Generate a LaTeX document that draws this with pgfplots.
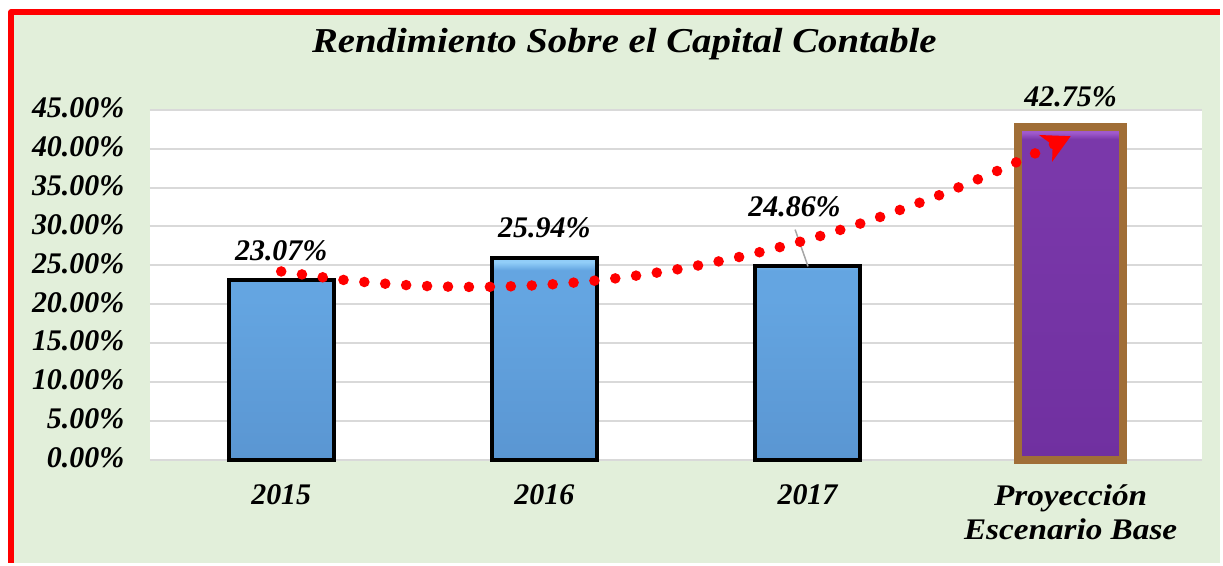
\documentclass[border=0pt]{standalone}
\usepackage{fontspec}
\setmainfont{Liberation Serif}
\newfontfamily\widefont{Liberation Serif}[FakeStretch=1.11]
\usepackage{pgfplots}
\pgfplotsset{compat=1.18}
\usepackage{pgfplotstable}
\usetikzlibrary{arrows.meta}

\definecolor{panelgreen}{RGB}{226,239,218}
\definecolor{framered}{RGB}{255,0,0}
\definecolor{gridgray}{RGB}{217,217,217}
\definecolor{barblue}{RGB}{100,165,225}
\definecolor{bluedark}{RGB}{90,150,210}
\definecolor{bluelight}{RGB}{145,205,248}
\definecolor{barpurple}{RGB}{122,56,170}
\definecolor{purpledark}{RGB}{112,48,160}
\definecolor{purplelight}{RGB}{160,90,205}
\definecolor{barbrown}{RGB}{160,110,55}
\definecolor{leadergray}{RGB}{166,166,166}

% bar face: slightly darker at the bottom, a light bevel along the top edge
\pgfdeclareverticalshading{bluebar}{100bp}{color(0bp)=(bluedark); color(25bp)=(bluedark);
  color(65bp)=(barblue); color(72bp)=(barblue); color(74bp)=(bluelight); color(100bp)=(bluelight)}
\pgfdeclareverticalshading{purplebar}{100bp}{color(0bp)=(purpledark); color(25bp)=(purpledark);
  color(68bp)=(barpurple); color(73.2bp)=(barpurple); color(74.2bp)=(purplelight); color(100bp)=(purplelight)}

% dx/dy: label offsets (pt); the 2017 label was dragged up and to the left
\pgfplotstableread{
x y dx dy
0 23.07 0 9
1 25.94 0 9
2 24.86 -6.5 24
}\actuals
\pgfplotstableread{
x y
3 42.75
}\projection

\newcommand{\lblfont}{\fontsize{15}{17.5}\selectfont\bfseries\itshape}

\begin{document}
\begin{tikzpicture}
\fill[white] (0pt,0pt) rectangle (611.5pt,282pt);
\fill[panelgreen] (5.6pt,0pt) rectangle (611.5pt,275.9pt);
\draw[framered, line width=2.85pt, line join=round] (5.6pt,0pt) -- (5.6pt,275.9pt) -- (611.5pt,275.9pt);
\begin{axis}[
  at={(75pt,51.5pt)}, anchor=south west,
  scale only axis, width=527.5pt, height=175.5pt,
  xmin=-0.5, xmax=3.5, ymin=0, ymax=45,
  axis background/.style={fill=white},
  axis line style={draw=none},
  major tick length=0pt,
  ymajorgrids, grid style={gridgray, line width=1pt},
  ytick={0,5,...,45},
  yticklabel={\pgfmathprintnumber[fixed,fixed zerofill,precision=2]{\tick}\%},
  yticklabel style={font=\lblfont, inner sep=0pt, anchor=east, xshift=-12.5pt, yshift=1pt},
  xtick={0,1,2,3},
  xticklabels={2015,2016,2017,{\widefont Proyección\\\widefont Escenario Base}},
  xticklabel style={font=\lblfont, align=center, inner sep=0pt, anchor=north, yshift=-12pt},
  /pgf/number format/assume math mode=true,
  bar width=0.4,
  title={Rendimiento Sobre el Capital Contable},
  title style={font=\widefont\fontsize{17.5}{20}\selectfont\bfseries\itshape, anchor=base, at={(rel axis cs:0.451,1.128)}},
  clip=false,
]
\addplot[ybar, bar shift=0pt, shade, shading=bluebar, draw=black, line width=2pt,
  nodes near coords={\pgfmathprintnumber[fixed,fixed zerofill,precision=2]{\pgfplotspointmeta}\%},
  visualization depends on={\thisrow{dx} \as \dx},
  visualization depends on={\thisrow{dy} \as \dy},
  every node near coord/.append style={font=\lblfont, text=black, inner sep=0pt, anchor=south, xshift=\dx pt, yshift=\dy pt}]
  table[x=x, y=y] {\actuals};
\addplot[ybar, bar shift=0pt, shade, shading=purplebar, draw=barbrown, line width=4pt,
  nodes near coords={\pgfmathprintnumber[fixed,fixed zerofill,precision=2]{\pgfplotspointmeta}\%},
  every node near coord/.append style={font=\lblfont, text=black, inner sep=0pt, anchor=south, yshift=8pt}]
  table[x=x, y=y] {\projection};
% leader line of the moved 2017 label
\draw[leadergray, line width=0.75pt] (axis cs:1.953,29.6) -- (axis cs:2.002,24.87);
% polynomial trend line (order 2)
\addplot[framered, mark=none, smooth, line width=5.3pt, line cap=round, dash pattern=on 0pt off 10.5pt,
  -{Stealth[length=14pt, width=15pt, inset=4pt, line width=0pt]}] coordinates {
  (0,24.22) (0.25,23.08) (0.5,22.42) (0.75,22.23) (1,22.50) (1.25,23.25)
  (1.5,24.46) (1.75,26.15) (2,28.30) (2.25,30.92) (2.5,34.01) (2.75,37.57) (3,41.60)
};
\end{axis}
\end{tikzpicture}
\end{document}
